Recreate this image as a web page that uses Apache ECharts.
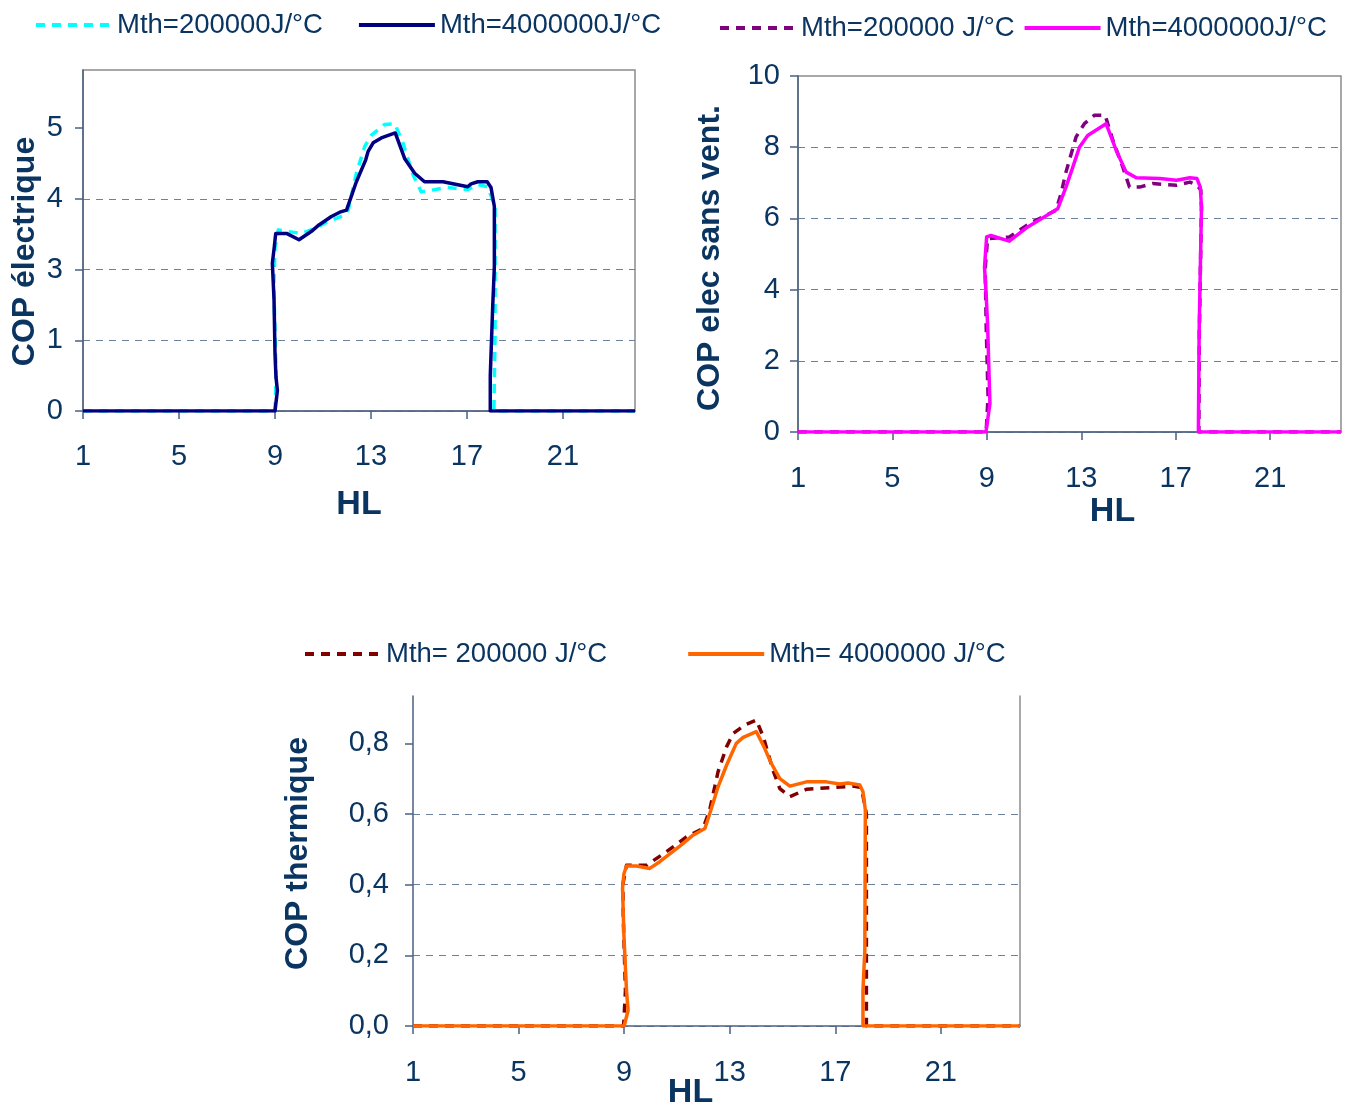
<!DOCTYPE html>
<html><head><meta charset="utf-8">
<script src="https://cdn.jsdelivr.net/npm/echarts@6/dist/echarts.min.js"></script>
<style>html,body{margin:0;padding:0;background:#fff}#c{width:1351px;height:1104px}</style>
</head><body><div id="c"></div>
<script>
// ---------- data ----------
const hourTicks = [1, 5, 9, 13, 17, 21];
const elecTickLabels = [0, 1, 3, 4, 5];          // labels shown on the COP électrique axis (equally spaced)
const ventTickLabels = [0, 2, 4, 6, 8, 10];
const thermTickLabels = [0, 0.2, 0.4, 0.6, 0.8];

// Chart 1 : COP électrique
const elecLowX  = [1, 8.1, 9.0, 9.05, 8.95, 9.0, 9.14, 9.48, 10.1, 10.66, 11.22, 11.91, 12.05, 12.39, 12.74, 13.02, 13.57, 13.99, 14.33, 14.75, 15.09, 15.51, 16.13, 17.03, 17.45, 17.86, 18.17, 18.17, 18.12, 24];
const elecLowY  = [0, 0, 0, 0.5, 2.5, 3.3, 3.56, 3.54, 3.51, 3.58, 3.68, 3.77, 3.84, 4.36, 4.74, 4.9, 5.05, 5.06, 4.79, 4.34, 4.1, 4.12, 4.16, 4.13, 4.2, 4.17, 3.89, 1.2, 0, 0];
const elecHighX = [1, 9.0, 9.1, 9.04, 9.0, 8.96, 8.89, 8.97, 9.03, 9.48, 10.0, 10.52, 10.83, 11.35, 11.7, 11.98, 12.39, 12.78, 12.88, 13.09, 13.43, 14.01, 14.4, 14.82, 15.23, 16.0, 17.03, 17.17, 17.45, 17.84, 18.0, 18.14, 18.14, 18.07, 17.97, 17.97, 24];
const elecHighY = [0, 0, 0.29, 0.48, 0.81, 2.14, 3.09, 3.32, 3.51, 3.51, 3.42, 3.54, 3.63, 3.75, 3.81, 3.84, 4.24, 4.55, 4.67, 4.79, 4.86, 4.93, 4.57, 4.36, 4.24, 4.24, 4.17, 4.21, 4.24, 4.24, 4.16, 3.89, 3.04, 1.94, 0.5, 0, 0];

// Chart 2 : COP elec sans vent.
const ventLowX  = [1, 8.97, 9.05, 8.97, 8.93, 9.03, 9.95, 10.8, 11.93, 12.14, 12.35, 12.78, 13.13, 13.56, 14.01, 14.34, 14.76, 15.04, 15.47, 16.03, 17.03, 17.6, 17.9, 18.06, 18.09, 18.0, 17.98, 24];
const ventLowY  = [0, 0, 1.0, 3.0, 4.6, 5.43, 5.48, 5.85, 6.23, 6.69, 7.3, 8.29, 8.66, 8.9, 8.9, 8.19, 7.44, 6.88, 6.88, 6.98, 6.93, 7.02, 6.93, 6.8, 6.3, 2.8, 0, 0];
const ventHighX = [1, 8.96, 9.13, 9.1, 9.03, 8.96, 8.9, 8.99, 9.17, 9.95, 10.73, 11.08, 12.0, 12.35, 12.64, 12.92, 13.27, 14.05, 14.48, 14.9, 15.33, 16.32, 17.03, 17.6, 17.9, 18.04, 18.09, 17.99, 17.96, 24];
const ventHighY = [0, 0, 0.8, 1.45, 3.04, 3.98, 4.63, 5.48, 5.52, 5.36, 5.76, 5.9, 6.27, 6.88, 7.44, 8.0, 8.33, 8.66, 7.91, 7.3, 7.14, 7.12, 7.07, 7.14, 7.12, 6.88, 6.32, 2.76, 0, 0];

// Chart 3 : COP thermique
const thermLowX  = [1, 8.98, 9.05, 8.97, 8.95, 9.09, 9.85, 10.6, 11.36, 11.99, 12.24, 12.56, 12.88, 13.13, 13.57, 14.01, 14.27, 14.64, 14.9, 15.28, 15.91, 16.92, 17.67, 17.99, 18.18, 18.18, 24];
const thermLowY  = [0, 0, 0.1, 0.3, 0.4, 0.455, 0.455, 0.493, 0.535, 0.559, 0.611, 0.72, 0.79, 0.828, 0.852, 0.866, 0.819, 0.724, 0.672, 0.649, 0.67, 0.675, 0.679, 0.675, 0.6, 0, 0];
const thermHighX = [1, 9.0, 9.15, 9.09, 8.99, 8.94, 8.99, 9.09, 9.47, 9.97, 10.35, 11.11, 11.61, 12.06, 12.24, 12.56, 12.88, 13.25, 13.51, 14.01, 14.27, 14.58, 14.9, 15.28, 15.91, 16.66, 17.17, 17.48, 17.93, 18.05, 18.14, 18.12, 18.05, 18.05, 24];
const thermHighY = [0, 0, 0.044, 0.1, 0.26, 0.39, 0.43, 0.453, 0.453, 0.446, 0.465, 0.509, 0.54, 0.559, 0.6, 0.677, 0.738, 0.8, 0.817, 0.833, 0.795, 0.743, 0.7, 0.679, 0.691, 0.691, 0.685, 0.688, 0.682, 0.663, 0.611, 0.214, 0.1, 0, 0];

const names1 = ['Mth=200000J/°C', 'Mth=4000000J/°C'];
const names2 = ['Mth=200000 J/°C', 'Mth=4000000J/°C '];
const names3 = ['Mth= 200000 J/°C', 'Mth= 4000000 J/°C'];

// ---------- helpers ----------
const TXT = '#0b3561';
const AX = '#4a6282';
const GRIDC = '#6d819b';
const FRAME = '#8c8c8c';
const FONT = '"Liberation Sans", Arial, sans-serif';

// position on the equally spaced COP électrique axis for a displayed value
function elecPos(v) {
  const L = elecTickLabels;
  for (let i = 0; i < L.length - 1; i++) {
    if (v <= L[i + 1]) return i + (v - L[i]) / (L[i + 1] - L[i]);
  }
  return (L.length - 1) + (v - L[L.length - 1]) / (L[L.length - 1] - L[L.length - 2]);
}
const zip = (xs, ys, f) => xs.map((x, i) => [x, f ? f(ys[i]) : ys[i]]);

function xAxisCfg(gi, nameGap, namePad, labelMargin) {
  return {
    type: 'value', gridIndex: gi, min: 1, max: 24,
    name: 'HL', nameLocation: 'middle', nameGap: nameGap, nameMoveOverlap: false,
    nameTextStyle: { fontFamily: FONT, fontWeight: 'bold', fontSize: 34, color: TXT, padding: namePad },
    axisLine: { show: true, onZero: false, lineStyle: { color: AX, width: 1.5 } },
    axisTick: { show: true, length: 8, customValues: hourTicks, lineStyle: { color: AX, width: 1.5 } },
    axisLabel: { customValues: hourTicks, margin: labelMargin, fontFamily: FONT, fontSize: 29, color: TXT },
    splitLine: { show: false }
  };
}
function yAxisCfg(gi, o) {
  return Object.assign({
    type: 'value', gridIndex: gi, min: 0,
    nameLocation: 'middle', nameRotate: 90, nameMoveOverlap: false,
    axisLine: { show: true, onZero: false, lineStyle: { color: AX, width: 1.5 } },
    axisTick: { show: true, length: 8, lineStyle: { color: AX, width: 1.5 } },
    splitLine: { show: true, showMaxLine: false, lineStyle: { color: GRIDC, type: [7, 6], width: 1 } }
  }, o);
}
function yName(pad) {
  return { fontFamily: FONT, fontWeight: 'bold', fontSize: 32, color: TXT, padding: pad };
}
function lineSeries(name, xi, yi, data, color, dashed, z) {
  return {
    type: 'line', name: name, xAxisIndex: xi, yAxisIndex: yi, data: data,
    symbol: 'none', smooth: false, z: z,
    lineStyle: { color: color, width: 3.5, type: dashed ? [9, 7] : 'solid', cap: 'butt', join: 'round' },
    itemStyle: { color: color }
  };
}
function legendCfg(names, left, top, gap) {
  return {
    data: names, left: left, top: top, width: 1200, itemGap: gap, itemWidth: 76, itemHeight: 14,
    selectedMode: false,
    itemStyle: { opacity: 0 },
    lineStyle: { width: 4 },
    textStyle: { fontFamily: FONT, fontSize: 27.5, color: TXT }
  };
}

const option = {
  animation: false,
  backgroundColor: '#fff',
  legend: [
    legendCfg(names1, 29, 6, 34),
    legendCfg(names2, 713, 9, 8),
    legendCfg(names3, 298, 635, 79)
  ],
  grid: [
    { left: 83, top: 70, width: 552, height: 341, show: true, borderColor: FRAME, borderWidth: 1.5, outerBoundsMode: 'none', containLabel: false },
    { left: 798, top: 76, width: 543, height: 356, show: true, borderColor: FRAME, borderWidth: 1.5, outerBoundsMode: 'none', containLabel: false },
    { left: 413, top: 696, width: 607, height: 330, show: false, outerBoundsMode: 'none', containLabel: false }
  ],
  xAxis: [
    xAxisCfg(0, 77, [0, 0, 0, 0], 31),
    xAxisCfg(1, 63, [0, 0, 0, 86], 32),
    xAxisCfg(2, 50, [0, 52, 0, 0], 32)
  ],
  yAxis: [
    yAxisCfg(0, {
      max: 4.82, interval: 1, name: 'COP électrique', nameGap: 42, nameTextStyle: yName([0, 22, 0, 0]),
      axisTick: { show: true, length: 8, customValues: [0, 1, 2, 3, 4], lineStyle: { color: AX, width: 1.5 } },
      axisLabel: { customValues: [0, 1, 2, 3, 4], margin: 20, fontFamily: FONT, fontSize: 29, color: TXT,
        formatter: v => String(elecTickLabels[Math.round(v)]) }
    }),
    yAxisCfg(1, {
      max: 10, interval: 2, name: 'COP elec sans vent.', nameGap: 72, nameTextStyle: yName([0, 8, 0, 0]),
      axisLabel: { margin: 18, fontFamily: FONT, fontSize: 29, color: TXT,
        formatter: v => String(ventTickLabels[Math.round(v / 2)]) }
    }),
    yAxisCfg(2, {
      max: 0.934, interval: 0.2, name: 'COP thermique', nameGap: 99, nameTextStyle: yName([0, 0, 0, 15]),
      axisTick: { show: true, length: 8, customValues: thermTickLabels, lineStyle: { color: AX, width: 1.5 } },
      axisLabel: { customValues: thermTickLabels, margin: 24, fontFamily: FONT, fontSize: 29, color: TXT,
        formatter: v => v.toFixed(1).replace('.', ',') }
    }),
    { type: 'value', gridIndex: 2, position: 'right', min: 0, max: 1,
      axisLine: { show: true, lineStyle: { color: FRAME, width: 1.5 } },
      axisTick: { show: false }, axisLabel: { show: false }, splitLine: { show: false } }
  ],
  series: [
    lineSeries(names1[0], 0, 0, zip(elecLowX, elecLowY, elecPos), '#00FFFF', true, 2),
    lineSeries(names1[1], 0, 0, zip(elecHighX, elecHighY, elecPos), '#000080', false, 3),
    lineSeries(names2[0], 1, 1, zip(ventLowX, ventLowY), '#800080', true, 2),
    lineSeries(names2[1], 1, 1, zip(ventHighX, ventHighY), '#FF00FF', false, 3),
    lineSeries(names3[0], 2, 2, zip(thermLowX, thermLowY), '#800000', true, 2),
    lineSeries(names3[1], 2, 2, zip(thermHighX, thermHighY), '#FF6600', false, 3)
  ]
};
const chart = echarts.init(document.getElementById('c'), null, { renderer: 'canvas' });
chart.setOption(option);
</script>
</body></html>
